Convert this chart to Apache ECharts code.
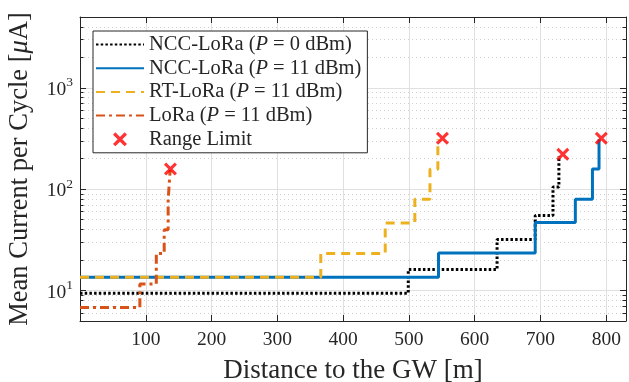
<!DOCTYPE html>
<html>
<head>
<meta charset="utf-8">
<script src="https://cdn.jsdelivr.net/npm/echarts@6/dist/echarts.min.js"></script>
<style>
  html, body { margin: 0; padding: 0; background: #fff; }
  #chart { width: 629px; height: 382px; }
</style>
</head>
<body>
<div id="chart"></div>
<script>
// distance to the GW [m] where each step starts, mean current [uA] on that step
const nccP0Dist = [0, 499, 634, 692, 719, 728]
const nccP0Cur = [9.4, 16.1, 31.8, 55, 105, 212]
const nccP11Dist = [0, 545, 692, 753, 779, 789]
const nccP11Cur = [13.5, 23.4, 46.9, 79.6, 158, 310]
const rtDist = [0, 366, 464, 509, 532, 544]
const rtCur = [13.5, 23.2, 46.4, 79.6, 157, 310]
const loraDist = [0, 91, 116, 128, 134, 137]
const loraCur = [6.8, 11.6, 23.2, 39.8, 78, 154]
// range limit markers
const limitDist = [137.5, 551, 734, 792.5]
const limitCur = [158, 318, 221, 318]

const xTicks = [100, 200, 300, 400, 500, 600, 700, 800]
const yMajor = [10, 100, 1000]
const yMinor = [6, 7, 8, 9, 20, 30, 40, 50, 60, 70, 80, 90, 200, 300, 400, 500, 600, 700, 800, 900, 2000, 3000, 4000]

const FONT = 'Liberation Serif'
const INK = '#262626'
const CROSS = 'path://M2,0L6,4L10,0L12,2L8,6L12,10L10,12L6,8L2,12L0,10L4,6L0,2Z'

function pairs(xs, ys) {
  return xs.map((x, i) => [x, ys[i]])
}

// legend entry for a line: only the line sample, no marker in the middle
function lineEntry(name) {
  return { name: name, itemStyle: { opacity: 0 } }
}

const chart = echarts.init(document.getElementById('chart'))

const logBase = {
  type: 'log',
  logBase: 10,
  min: 5,
  max: 5000
}

chart.setOption({
  animation: false,
  backgroundColor: '#fff',
  grid: { left: 80, right: 3, top: 17, bottom: 61, outerBoundsMode: 'none', containLabel: false },
  legend: {
    orient: 'vertical',
    left: 93,
    top: 31,
    padding: [3, 6, 3, 2],
    itemGap: 2.7,
    itemWidth: 48,
    itemHeight: 14,
    backgroundColor: '#fff',
    borderColor: INK,
    borderWidth: 1,
    borderRadius: 0,
    data: [
      lineEntry('NCC-LoRa (P = 0 dBm)'),
      lineEntry('NCC-LoRa (P = 11 dBm)'),
      lineEntry('RT-LoRa (P = 11 dBm)'),
      lineEntry('LoRa (P = 11 dBm)'),
      { name: 'Range Limit', icon: CROSS }
    ],
    formatter: name => name.replace('(P', '({i|P}'),
    textStyle: {
      fontFamily: FONT,
      fontSize: 20.5,
      color: INK,
      lineHeight: 20,
      rich: {
        i: { fontFamily: FONT, fontSize: 20.5, fontStyle: 'italic', color: INK, lineHeight: 20 }
      }
    }
  },
  xAxis: [{
    type: 'value',
    min: 0,
    max: 830,
    interval: 100,
    position: 'bottom',
    name: 'Distance to the GW [m]',
    nameLocation: 'middle',
    nameGap: 36,
    nameTextStyle: { fontFamily: FONT, fontSize: 27, color: INK },
    axisLine: { show: true, lineStyle: { color: INK, width: 1 } },
    axisTick: { show: true, inside: true, length: 6, customValues: xTicks, lineStyle: { color: INK } },
    axisLabel: { customValues: xTicks, margin: 9, fontFamily: FONT, fontSize: 19.5, color: INK },
    splitLine: { show: true, lineStyle: { color: '#e0e0e0', width: 1 } }
  }, {
    type: 'value',
    min: 0,
    max: 830,
    interval: 100,
    position: 'top',
    axisLine: { show: true, lineStyle: { color: INK, width: 1 } },
    axisTick: { show: true, inside: true, length: 6, customValues: xTicks, lineStyle: { color: INK } },
    axisLabel: { show: false },
    splitLine: { show: false }
  }],
  yAxis: [Object.assign({}, logBase, {
    position: 'left',
    name: 'Mean Current per Cycle [{i|μ}A]',
    nameLocation: 'middle',
    nameGap: 46,
    nameTextStyle: {
      fontFamily: FONT, fontSize: 26.5, color: INK,
      rich: { i: { fontFamily: FONT, fontSize: 26.5, fontStyle: 'italic', color: INK } }
    },
    axisLine: { show: true, lineStyle: { color: INK, width: 1 } },
    axisTick: { show: true, inside: true, length: 6, customValues: yMajor, lineStyle: { color: INK } },
    axisLabel: {
      customValues: yMajor,
      margin: 7,
      formatter: v => '{b|10}{s|' + Math.round(Math.log10(v)) + '}',
      rich: {
        b: { fontFamily: FONT, fontSize: 19.5, color: INK, lineHeight: 24, verticalAlign: 'bottom' },
        s: { fontFamily: FONT, fontSize: 13.5, color: INK, lineHeight: 24, verticalAlign: 'top' }
      }
    },
    splitLine: { show: true, lineStyle: { color: '#e0e0e0', width: 1 } }
  }), Object.assign({}, logBase, {
    position: 'left',
    axisLine: { show: false },
    axisTick: { show: true, inside: true, length: 3.5, customValues: yMinor, lineStyle: { color: INK } },
    axisLabel: { show: false },
    splitLine: { show: true, lineStyle: { color: '#cfcfcf', width: 1, type: [1, 3] } }
  }), Object.assign({}, logBase, {
    position: 'right',
    axisLine: { show: true, lineStyle: { color: INK, width: 1 } },
    axisTick: { show: true, inside: true, length: 6, customValues: yMajor, lineStyle: { color: INK } },
    axisLabel: { show: false },
    splitLine: { show: false }
  }), Object.assign({}, logBase, {
    position: 'right',
    axisLine: { show: false },
    axisTick: { show: true, inside: true, length: 3.5, customValues: yMinor, lineStyle: { color: INK } },
    axisLabel: { show: false },
    splitLine: { show: false }
  })],
  series: [{
    name: 'NCC-LoRa (P = 0 dBm)',
    type: 'line',
    step: 'end',
    symbol: 'none',
    data: pairs(nccP0Dist, nccP0Cur),
    lineStyle: { color: '#000', width: 3, type: [2.5, 2.2], cap: 'butt' },
    itemStyle: { color: '#000' }
  }, {
    name: 'NCC-LoRa (P = 11 dBm)',
    type: 'line',
    step: 'end',
    symbol: 'none',
    data: pairs(nccP11Dist, nccP11Cur),
    lineStyle: { color: '#0072BD', width: 3 },
    itemStyle: { color: '#0072BD' }
  }, {
    name: 'RT-LoRa (P = 11 dBm)',
    type: 'line',
    step: 'end',
    symbol: 'none',
    data: pairs(rtDist, rtCur),
    lineStyle: { color: '#EDB120', width: 3, type: [9, 6], cap: 'butt' },
    itemStyle: { color: '#EDB120' }
  }, {
    name: 'LoRa (P = 11 dBm)',
    type: 'line',
    step: 'end',
    symbol: 'none',
    data: pairs(loraDist, loraCur),
    lineStyle: { color: '#D95319', width: 3, type: [9, 4, 3, 4], cap: 'butt' },
    itemStyle: { color: '#D95319' }
  }, {
    name: 'Range Limit',
    type: 'scatter',
    symbol: CROSS,
    symbolSize: 13,
    data: pairs(limitDist, limitCur),
    itemStyle: { color: '#ff0000' },
    z: 5
  }]
})
</script>
</body>
</html>
